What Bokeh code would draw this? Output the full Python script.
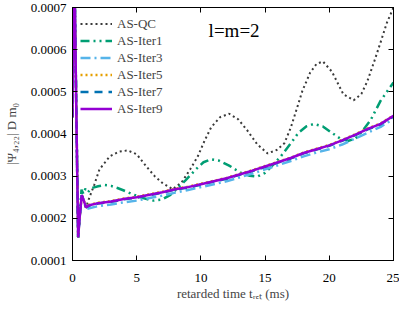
from bokeh.plotting import figure
from bokeh.models import (Range1d, FixedTicker, PrintfTickFormatter, LinearAxis,
                          Label, Legend, LegendItem, CustomJSTickFormatter)
from bokeh.embed import file_html
from bokeh.resources import INLINE

# ---- data ----
spike_t = [0.0, 0.08, 0.18, 0.30, 0.44, 0.55, 0.72, 0.85, 1.05]
spike_v = [0.00044, 0.00075, 0.00072, 0.00045, 0.000155, 0.00020, 0.000255, 0.000245, 0.000226]

t_iter9 = spike_t + [1.3, 2, 3, 4, 5, 6, 7, 8, 9, 10, 11, 12, 13, 14, 15, 16, 17, 18, 19, 20, 21, 22, 23, 24, 25]
v_iter9 = spike_v + [0.000231, 0.000236, 0.000240, 0.000246, 0.000250, 0.000256, 0.000262, 0.000269,
                     0.000274, 0.000281, 0.000288, 0.000295, 0.000304, 0.000313, 0.000323, 0.000333,
                     0.000343, 0.000355, 0.000364, 0.000373, 0.000385, 0.000398, 0.000412, 0.000424, 0.000443]

t_iter7 = t_iter9
v_iter7 = spike_v + [0.000230, 0.000235, 0.000239, 0.000245, 0.000249, 0.000255, 0.000261, 0.000268,
                     0.000273, 0.000280, 0.000287, 0.000294, 0.000303, 0.000312, 0.000322, 0.000332,
                     0.000342, 0.000354, 0.000363, 0.000372, 0.000384, 0.000397, 0.000411, 0.000423, 0.000442]

t_iter5 = t_iter9
v_iter5 = spike_v + [0.000232, 0.000237, 0.000241, 0.000247, 0.000251, 0.000257, 0.000263, 0.000270,
                     0.000275, 0.000282, 0.000289, 0.000296, 0.000305, 0.000314, 0.000324, 0.000334,
                     0.000344, 0.000356, 0.000365, 0.000374, 0.000386, 0.000399, 0.000413, 0.000425, 0.000444]

t_iter3 = t_iter9
v_iter3 = spike_v[:-1] + [0.000222, 0.000224, 0.000229, 0.000233, 0.000238, 0.000242, 0.000248, 0.000254, 0.000261,
                          0.000267, 0.000274, 0.000281, 0.000288, 0.000297, 0.000306, 0.000316, 0.000326,
                          0.000336, 0.000347, 0.000356, 0.000364, 0.000375, 0.000389, 0.000403, 0.000417, 0.000436]

t_iter1 = spike_t[:-3] + [0.70, 0.85, 1.0, 1.2, 1.5, 2.0, 2.5, 3.0, 3.5, 4.0, 4.7, 5.5, 6.3, 7.0, 7.6, 8.1,
                          8.8, 9.6, 10.2, 10.8, 11.4, 12.2, 13.1, 13.8, 14.4, 15.0, 15.6, 16.2, 17.0, 17.6,
                          18.2, 18.8, 19.5, 20.1, 20.9, 21.5, 22.05, 22.6, 23.2, 24.0, 24.6, 25.0]
v_iter1 = spike_v[:-3] + [0.000268, 0.000258, 0.000270, 0.000262, 0.000272, 0.000276, 0.000279, 0.000277,
                          0.000272, 0.000266, 0.000257, 0.000248, 0.000242, 0.000245, 0.000255, 0.000269,
                          0.000290, 0.000316, 0.000333, 0.000340, 0.000337, 0.000325, 0.000308, 0.000301,
                          0.000299, 0.000308, 0.000326, 0.000346, 0.000378, 0.000403, 0.000418, 0.000424,
                          0.000418, 0.000405, 0.000388, 0.000384, 0.000389, 0.000408, 0.000432, 0.000479,
                          0.000505, 0.000522]

t_qc = spike_t + [1.3, 1.7, 2.1, 2.9, 3.6, 4.3, 5.0, 5.75, 6.4, 7.0, 7.8, 8.5, 9.2, 9.76, 10.3, 10.8,
                  11.5, 12.2, 12.9, 13.6, 14.4, 15.2, 15.9, 16.5, 17.0, 17.5, 17.9, 18.5, 19.0, 19.5,
                  20.2, 21.1, 21.9, 22.5, 22.96, 23.5, 24.0, 24.5, 25.0]
v_qc = spike_v + [0.000248, 0.000280, 0.000316, 0.000347, 0.000358, 0.000361, 0.000352, 0.000323,
                  0.000300, 0.000284, 0.000269, 0.000285, 0.000318, 0.000347, 0.000385, 0.000416,
                  0.000440, 0.000448, 0.000435, 0.000409, 0.000375, 0.000354, 0.000362, 0.000378,
                  0.000415, 0.000463, 0.000502, 0.000545, 0.000566, 0.000572, 0.000548, 0.000494,
                  0.000480, 0.000495, 0.000525, 0.000572, 0.000618, 0.000665, 0.000700]

x_ticks = [0, 5, 10, 15, 20, 25]
y_ticks = [0.0001, 0.0002, 0.0003, 0.0004, 0.0005, 0.0006, 0.0007]

FONT = "Liberation Serif"

p = figure(width=399, height=303, output_backend="svg", toolbar_location=None,
           x_range=Range1d(0, 25), y_range=Range1d(0.0001, 0.0007),
           min_border_left=71, min_border_right=6, min_border_top=7, min_border_bottom=0)
p.xgrid.visible = False
p.ygrid.visible = False
p.outline_line_color = "black"
p.outline_line_width = 1
p.background_fill_color = "white"
p.border_fill_color = "white"

def style_axis(ax, labels=True):
    ax.major_tick_in = 5
    ax.major_tick_out = 0
    ax.minor_tick_line_color = None
    ax.axis_line_color = "black"
    ax.major_tick_line_color = "black"
    ax.major_label_text_font = FONT
    ax.major_label_text_font_size = "13px"
    ax.major_label_text_color = "black"
    ax.axis_label_text_font = FONT
    ax.axis_label_text_font_size = "13px"
    ax.axis_label_text_font_style = "normal"
    if not labels:
        ax.formatter = CustomJSTickFormatter(code="return ''")
        ax.major_label_text_font_size = "1px"
        ax.major_label_standoff = 0

xa = p.xaxis[0]
xa.ticker = FixedTicker(ticks=x_ticks, minor_ticks=[])
style_axis(xa)
xa.major_label_standoff = 13
xa.axis_label = "retarded time tᵣₑₜ (ms)"
xa.axis_label_standoff = 1

ya = p.yaxis[0]
ya.ticker = FixedTicker(ticks=y_ticks, minor_ticks=[])
ya.formatter = PrintfTickFormatter(format="%.4f")
style_axis(ya)
ya.major_label_standoff = 6
ya.axis_label = "|Ψ₄,₂₂| D m₀"
ya.axis_label_standoff = 9

top = LinearAxis(ticker=FixedTicker(ticks=x_ticks, minor_ticks=[]))
style_axis(top, labels=False)
p.add_layout(top, "above")
right = LinearAxis(ticker=FixedTicker(ticks=y_ticks, minor_ticks=[]))
style_axis(right, labels=False)
p.add_layout(right, "right")

r_qc = p.line(t_qc, v_qc, line_color="#3a3a3a", line_width=2, line_dash="2 3")
r1 = p.line(t_iter1, v_iter1, line_color="#009e73", line_width=2.5, line_dash="9 4 2 4 2 4")
r3 = p.line(t_iter3, v_iter3, line_color="#56b4e9", line_width=2.5, line_dash="10 4 2 4")
r5 = p.line(t_iter5, v_iter5, line_color="#e69f00", line_width=2.5, line_dash="2 3")
r7 = p.line(t_iter7, v_iter7, line_color="#0072b2", line_width=2.5, line_dash="8 6")
r9 = p.line(t_iter9, v_iter9, line_color="#9400d3", line_width=2.5)

legend = Legend(items=[
    LegendItem(label="AS-QC", renderers=[r_qc]),
    LegendItem(label="AS-Iter1", renderers=[r1]),
    LegendItem(label="AS-Iter3", renderers=[r3]),
    LegendItem(label="AS-Iter5", renderers=[r5]),
    LegendItem(label="AS-Iter7", renderers=[r7]),
    LegendItem(label="AS-Iter9", renderers=[r9]),
], location="top_left")
legend.background_fill_alpha = 0
legend.border_line_color = None
legend.label_text_font = FONT
legend.label_text_font_size = "13px"
legend.label_height = 17
legend.glyph_height = 17
legend.glyph_width = 32
legend.label_standoff = 5
legend.spacing = 0
legend.padding = 4
legend.margin = 8
p.add_layout(legend)

p.add_layout(Label(x=10.6, y=0.000621, text="l=m=2", text_font=FONT,
                   text_font_size="19px", text_color="black"))

open("out.html", "w").write(file_html(p, INLINE))
